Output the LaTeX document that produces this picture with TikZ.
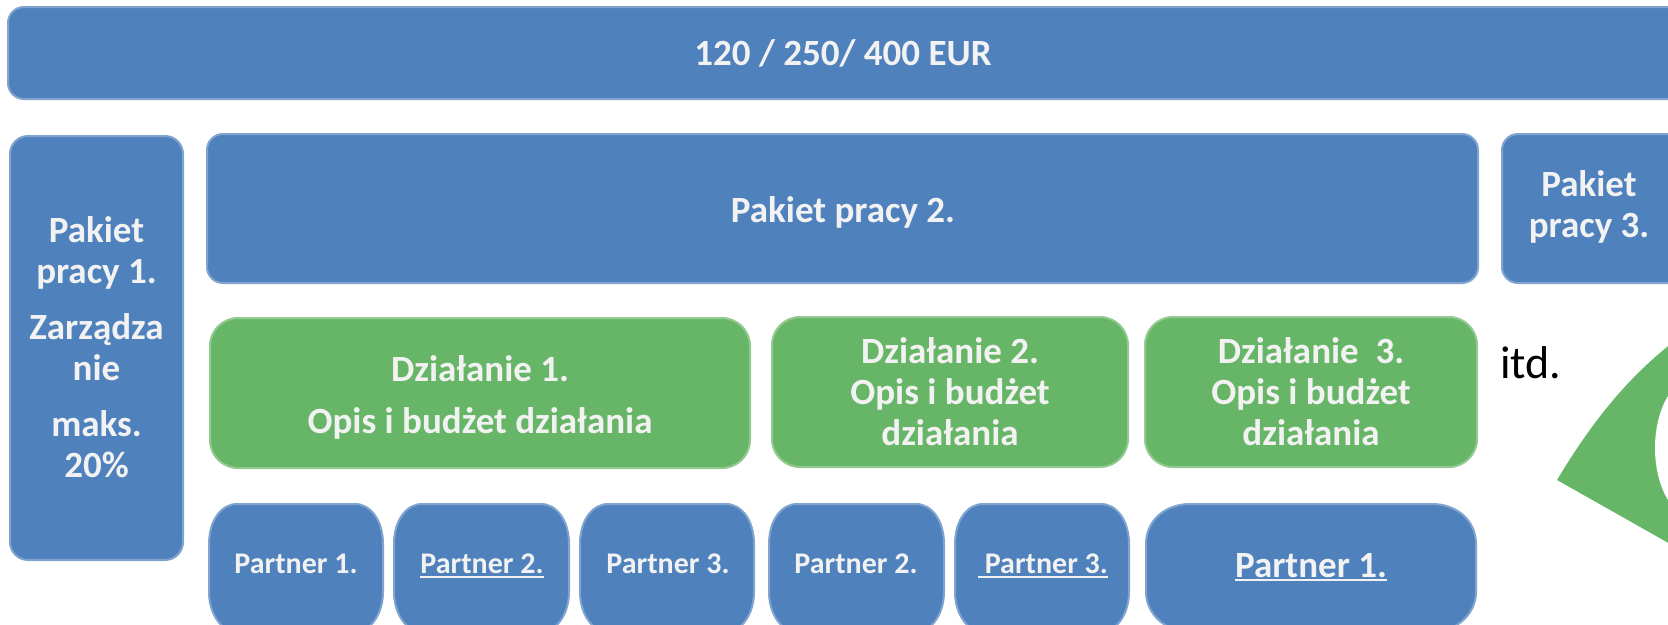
\documentclass[tikz,border=0pt]{standalone}
\usepackage{fontspec}
\setmainfont{Carlito}
\definecolor{blu}{RGB}{79,129,189}
\definecolor{grn}{RGB}{103,182,104}
\definecolor{txt}{RGB}{242,242,242}
\newcommand{\ulx}[2][5pt]{\leavevmode\setbox0\hbox{#2}\rlap{\rule[-#1]{\wd0}{2.4pt}}\box0}
\newcommand{\pshape}[3]{\filldraw[bbox] (#1,544) .. controls (#1,520) and ({#1+0.448*#3},504) .. ({#1+#3},504) -- ({#2-#3},504) .. controls ({#2-0.448*#3},504) and (#2,520) .. (#2,544) -- (#2,592) .. controls (#2,614) and ({#2-0.448*#3},632) .. ({#2-#3},632) -- ({#1+#3},632) .. controls ({#1+0.448*#3},632) and (#1,614) .. (#1,592) -- cycle;}
\tikzset{
  bbox/.style={fill=blu, draw=blu!72!white, line width=2pt},
  gbox/.style={fill=grn, draw=grn!72!white, line width=2pt},
  lbl/.style={text=txt, font=\bfseries\fontsize{37}{41}\selectfont, align=center, anchor=base, inner sep=0pt},
  plbl/.style={text=txt, font=\bfseries\fontsize{30}{36}\selectfont, anchor=base, inner sep=0pt},
  blbl/.style={text=txt, font=\bfseries\fontsize{37}{41}\selectfont, anchor=base, inner sep=0pt},
}
\begin{document}
\begin{tikzpicture}[x=1pt,y=-1pt]
\useasboundingbox (0,0) rectangle (1668,624);
\clip (0,0) rectangle (1668,624);
% top bar
\filldraw[bbox, rounded corners=16pt] (8,7) rectangle (1710,99);
\node[lbl] (top) at (843,65) {120 / 250/ 400 EUR};
% second row
\filldraw[bbox, rounded corners=18pt] (10,136) rectangle (183,560);
\node[lbl] (pp1) at (96.5,477) {Pakiet\\pracy 1.\\[15pt]Zarządza\\nie\\[15pt]maks.\\20\%};
\filldraw[bbox, rounded corners=16pt] (207,134) rectangle (1478,283);
\node[lbl] (pp2) at (843,222) {Pakiet pracy 2.};
\filldraw[bbox, rounded corners=16pt] (1502,134) rectangle (1710,283);
\node[lbl] (pp3) at (1589,237) {Pakiet\\pracy 3.};
% actions
\filldraw[gbox, rounded corners=28pt] (210,318) rectangle (750,468);
\node[lbl] (d1) at (480,433) {Działanie 1.\\[11pt]Opis i budżet działania};
\filldraw[gbox, rounded corners=28pt] (772,317) rectangle (1128,467);
\node[lbl] (d2) at (950,445) {Działanie 2.\\Opis i budżet\\działania};
\filldraw[gbox, rounded corners=28pt] (1145,317) rectangle (1477,467);
\node[lbl] (d3) at (1311,445) {Działanie\ \ 3.\\Opis i budżet\\działania};
\node[text=black, font=\fontsize{46}{50}\selectfont, anchor=base, inner sep=0pt] (itd) at (1531,378) {itd.};
% partners
\pshape{209}{383}{28}
\pshape{394}{569}{28}
\pshape{580}{754}{28}
\pshape{769}{944}{28}
\pshape{955}{1129}{28}
\pshape{1146}{1476}{44}
\node[plbl] (p1) at (296,573) {Partner 1.};
\node[plbl] (p2) at (482,573) {\ulx{Partner 2.}};
\node[plbl] (p3) at (668,573) {Partner 3.};
\node[plbl] (p2b) at (856,573) {Partner 2.};
\node[plbl] (p3b) at (1043,573) {\ulx{\ Partner 3.}};
\node[blbl] (p1b) at (1311,577) {\ulx[4pt]{Partner 1.}};
% green wedge at right
\fill[grn] (1557,480) .. controls (1590,425) and (1625,380) .. (1672,343) -- (1672,545) -- cycle;
\fill[white] (1697,448) ellipse [x radius=42, y radius=72];
\end{tikzpicture}
\end{document}
